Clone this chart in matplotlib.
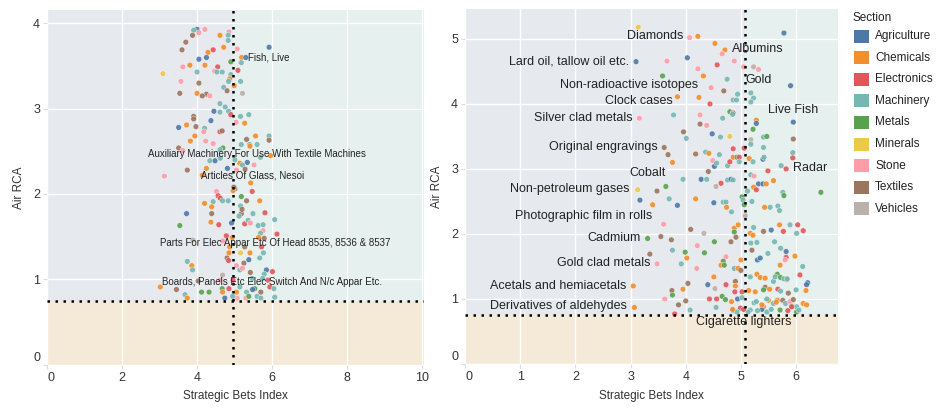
import matplotlib
matplotlib.use("Agg")
import matplotlib.pyplot as plt
from matplotlib.patches import Rectangle
from matplotlib.transforms import ScaledTranslation

plt.rcParams['font.family'] = ['Liberation Sans', 'DejaVu Sans']

sections = ["Agriculture", "Chemicals", "Electronics", "Machinery", "Metals",
            "Minerals", "Stone", "Textiles", "Vehicles"]
section_codes = ["A", "C", "E", "M", "Me", "Mi", "S", "T", "V"]
section_colors = ["#4e79a7", "#f28e2b", "#e15759", "#76b7b2", "#59a14f",
                  "#edc948", "#ff9da7", "#9c755f", "#bab0ac"]

# ---- left panel data ----
left_x = [4.00, 3.91, 4.21, 4.05, 3.88, 4.61, 4.85, 4.83, 4.83, 3.70, 4.71, 5.07, 5.92, 3.60, 4.43,
          4.29, 4.25, 4.05, 5.19, 5.30, 4.90, 5.18, 3.81, 4.21, 3.62, 4.55, 5.09, 3.09, 4.00, 4.47,
          4.53, 4.67, 4.90, 4.87, 4.84, 5.16, 3.57, 4.05, 4.99, 4.71, 4.80, 3.54, 4.00, 4.25, 4.34,
          4.14, 5.21, 4.61, 4.75, 4.45, 4.61, 4.84, 4.90, 5.16, 5.38, 3.91, 3.91, 4.37, 5.04, 5.27,
          3.51, 3.72, 3.97, 4.20, 4.18, 4.61, 4.67, 3.94, 5.56, 5.92, 5.92, 5.32, 3.82, 4.23, 4.43,
          5.18, 5.40, 5.60, 5.41, 3.51, 4.69, 4.61, 3.62, 5.69, 5.96, 5.01, 4.34, 4.48, 4.62, 5.14,
          5.34, 5.21, 5.52, 3.74, 4.25, 4.81, 5.05, 5.28, 3.13, 4.14, 5.43, 4.52, 5.01, 4.96, 5.47,
          5.18, 4.56, 4.62, 4.20, 4.43, 5.32, 5.67, 4.68, 4.83, 4.39, 5.16, 3.72, 4.39, 5.18, 5.12,
          5.49, 5.81, 6.07, 3.54, 4.37, 4.58, 4.92, 5.27, 5.36, 5.42, 5.63, 5.76, 5.76, 5.69, 6.13,
          3.89, 4.78, 4.94, 4.69, 5.64, 5.79, 5.72, 4.87, 5.27, 5.41, 5.77, 4.85, 5.16, 4.80, 4.84,
          5.38, 5.67, 3.74, 3.86, 3.88, 5.25, 5.05, 5.14, 5.21, 5.85, 6.01, 5.42, 4.68, 5.79, 5.89,
          4.03, 4.61, 4.96, 5.47, 5.75, 3.02, 3.45, 4.67, 4.85, 5.14, 5.54, 5.48, 5.94, 6.05, 4.12,
          4.32, 4.68, 5.05, 5.70, 5.32, 3.68, 3.74, 4.74, 5.07, 5.30, 5.38, 5.60, 5.70, 6.07, 4.95,
          4.98, 5.20]
left_y = [3.93, 3.92, 3.93, 3.89, 3.86, 3.86, 3.90, 3.86, 3.80, 3.78, 3.72, 3.70, 3.72, 3.69, 3.69,
          3.66, 3.60, 3.58, 3.60, 3.60, 3.55, 3.54, 3.51, 3.51, 3.49, 3.49, 3.45, 3.41, 3.43, 3.44,
          3.43, 3.43, 3.40, 3.35, 3.32, 3.32, 3.32, 3.30, 3.27, 3.25, 3.21, 3.18, 3.18, 3.17, 3.15,
          3.15, 3.18, 3.06, 3.02, 2.97, 2.96, 2.97, 2.93, 2.91, 2.93, 2.91, 2.88, 2.86, 2.84, 2.83,
          2.78, 2.81, 2.79, 2.77, 2.73, 2.73, 2.74, 2.68, 2.68, 2.68, 2.63, 2.64, 2.62, 2.62, 2.59,
          2.58, 2.58, 2.58, 2.56, 2.54, 2.54, 2.52, 2.51, 2.43, 2.45, 2.40, 2.39, 2.39, 2.42, 2.36,
          2.37, 2.34, 2.34, 2.28, 2.30, 2.30, 2.28, 2.29, 2.21, 2.22, 2.13, 2.03, 2.06, 2.04, 2.03,
          1.97, 1.98, 1.95, 1.89, 1.91, 1.92, 1.92, 1.92, 1.92, 1.85, 1.86, 1.77, 1.77, 1.77, 1.74,
          1.77, 1.78, 1.70, 1.63, 1.67, 1.64, 1.66, 1.65, 1.69, 1.66, 1.63, 1.64, 1.57, 1.54, 1.53,
          1.46, 1.51, 1.49, 1.45, 1.49, 1.48, 1.38, 1.38, 1.38, 1.31, 1.31, 1.31, 1.31, 1.25, 1.22,
          1.23, 1.25, 1.21, 1.16, 1.11, 1.19, 1.16, 1.11, 1.13, 1.11, 1.09, 1.08, 1.05, 1.06, 0.99,
          0.98, 0.99, 0.99, 1.01, 1.01, 0.91, 0.88, 0.89, 0.89, 0.91, 0.89, 0.88, 0.91, 0.89, 0.85,
          0.85, 0.85, 0.85, 0.85, 0.85, 0.82, 0.78, 0.78, 0.78, 0.78, 0.80, 0.80, 0.78, 0.79, 0.80,
          2.08, 1.82]
left_sec = ["A", "M", "S", "S", "T", "C", "S", "M", "M", "T", "C", "S", "A", "T", "E",
            "C", "A", "A", "C", "A", "Me", "M", "C", "C", "S", "E", "E", "Mi", "M", "S",
            "M", "M", "M", "C", "M", "M", "S", "T", "C", "M", "T", "T", "C", "T", "S",
            "T", "V", "M", "M", "A", "M", "M", "E", "M", "M", "T", "T", "A", "S", "C",
            "A", "C", "T", "M", "S", "E", "T", "C", "C", "M", "T", "T", "C", "S", "S",
            "M", "M", "M", "C", "T", "Me", "M", "S", "M", "C", "M", "M", "A", "M", "C",
            "A", "M", "S", "T", "C", "A", "S", "T", "S", "C", "C", "S", "T", "C", "E",
            "Me", "E", "E", "C", "M", "T", "C", "M", "M", "C", "M", "A", "T", "T", "M",
            "M", "E", "M", "Me", "C", "E", "A", "E", "M", "S", "M", "M", "S", "M", "E",
            "V", "E", "C", "S", "C", "T", "E", "C", "T", "C", "M", "C", "Mi", "T", "E",
            "A", "M", "M", "C", "M", "T", "S", "M", "S", "A", "E", "T", "V", "M", "E",
            "T", "S", "E", "M", "M", "C", "T", "Me", "E", "M", "Me", "A", "E", "M", "Me",
            "Me", "C", "C", "T", "M", "M", "C", "A", "S", "S", "Me", "M", "M", "M", "M",
            "T", "T"]
left_labels = ["Fish, Live", "Auxiliary Machinery For Use With Textile Machines",
               "Articles Of Glass, Nesoi", "Parts For Elec Appar Etc Of Head 8535, 8536 & 8537",
               "Boards, Panels Etc Elec Switch And N/c Appar Etc."]
left_label_x = [5.35, 5.59, 5.49, 6.09, 6.00]
left_label_y = [3.60, 2.47, 2.22, 1.42, 0.97]
left_label_ha = ["left", "center", "center", "center", "center"]
left_vline = 4.96
left_hline = 0.75

# ---- right panel data ----
right_x = [3.14, 4.07, 4.22, 4.53, 4.71, 4.66, 5.78, 3.10, 3.66, 4.03, 4.88, 4.22, 4.57, 5.05, 5.23,
           5.32, 3.58, 4.32, 4.75, 4.46, 4.69, 5.90, 4.94, 5.18, 5.23, 4.86, 4.92, 5.18, 3.85, 4.24,
           4.44, 3.16, 3.78, 4.26, 4.67, 4.80, 4.86, 4.85, 5.28, 5.28, 5.95, 4.26, 4.38, 5.22, 3.96,
           4.01, 4.48, 4.63, 4.80, 5.18, 5.18, 5.41, 5.47, 5.41, 5.95, 5.94, 5.94, 3.61, 3.68, 3.76,
           4.18, 4.36, 4.42, 4.49, 4.52, 4.56, 4.61, 4.76, 4.80, 4.86, 4.86, 4.93, 4.97, 4.97, 5.06,
           5.15, 5.22, 5.40, 5.42, 5.73, 5.82, 5.49, 4.41, 3.95, 4.28, 4.38, 4.64, 4.55, 4.76, 4.82,
           4.86, 5.18, 5.24, 5.32, 5.40, 5.46, 5.59, 5.23, 5.28, 5.12, 5.76, 5.78, 6.45, 3.64, 3.48,
           3.13, 3.17, 3.40, 3.70, 3.85, 4.18, 4.51, 4.68, 4.73, 4.74, 5.02, 5.04, 5.06, 5.20, 5.43,
           5.53, 5.67, 5.70, 5.08, 4.83, 3.60, 3.31, 3.55, 3.74, 3.76, 3.35, 3.48, 3.99, 4.02, 3.92,
           4.20, 4.09, 4.33, 4.21, 4.52, 4.34, 4.73, 4.68, 4.64, 4.70, 4.88, 4.95, 4.88, 4.91, 4.82,
           5.00, 4.88, 4.95, 5.00, 3.05, 3.07, 3.62, 3.75, 3.76, 3.87, 3.80, 4.00, 4.04, 3.95, 4.08,
           4.40, 4.53, 4.51, 4.43, 4.56, 4.55, 4.66, 4.72, 4.73, 4.83, 4.90, 4.90, 4.89, 5.02, 4.94,
           5.02, 4.86, 4.99, 4.93, 4.85, 5.14, 5.17, 5.22, 5.18, 5.20, 5.23, 5.29, 5.30, 5.35, 5.41,
           5.49, 5.55, 5.61, 5.70, 5.72, 5.82, 5.77, 5.89, 6.03, 6.01, 6.13, 5.98, 5.82, 5.80, 6.12,
           5.71, 5.66, 5.83, 6.21, 6.19, 5.59, 5.29, 5.35, 5.44, 5.52, 5.67, 5.72, 5.86, 6.00, 6.18,
           6.07, 5.17, 5.44, 5.62, 5.72, 5.78, 5.84, 5.41, 5.24, 5.41, 5.50, 5.59, 5.66, 5.76, 5.81,
           5.89, 5.92, 6.01, 6.13, 5.38, 5.71, 6.01, 5.17, 5.47, 5.92, 6.19, 5.38, 5.28, 5.47, 5.64,
           5.26, 5.30, 5.85, 6.05, 5.95, 5.55, 5.13, 5.05]
right_y = [5.18, 5.02, 5.04, 4.93, 4.83, 4.77, 5.09, 4.65, 4.66, 4.71, 4.66, 4.54, 4.60, 4.57, 4.57,
           4.53, 4.43, 4.43, 4.38, 4.25, 4.20, 4.28, 4.15, 4.17, 4.09, 4.06, 4.06, 4.03, 4.11, 4.10,
           4.00, 3.78, 3.83, 3.83, 3.78, 3.88, 3.86, 3.84, 3.75, 3.70, 3.72, 3.69, 3.67, 3.61, 3.57,
           3.47, 3.54, 3.49, 3.50, 3.45, 3.38, 3.49, 3.50, 3.33, 3.46, 3.25, 3.17, 3.33, 3.22, 3.10,
           3.23, 3.26, 3.24, 3.13, 3.04, 3.09, 3.22, 3.05, 3.11, 3.31, 3.18, 3.18, 3.18, 3.11, 3.32,
           3.16, 3.11, 3.15, 3.18, 3.05, 3.00, 2.97, 2.96, 2.84, 2.84, 2.84, 2.78, 2.73, 2.83, 2.84,
           2.83, 2.91, 2.89, 2.77, 2.77, 2.77, 2.82, 2.72, 2.68, 2.66, 2.64, 2.59, 2.64, 2.73, 2.66,
           2.68, 2.52, 2.45, 2.54, 2.44, 2.54, 2.48, 2.49, 2.49, 2.41, 2.57, 2.52, 2.45, 2.50, 2.41,
           2.41, 2.43, 2.36, 2.28, 2.34, 2.15, 1.93, 1.96, 1.91, 1.75, 1.69, 1.54, 1.72, 1.63, 1.54,
           1.47, 2.07, 2.01, 1.82, 1.88, 1.71, 1.65, 1.58, 1.52, 1.52, 2.09, 2.14, 2.03, 1.95, 1.88,
           1.60, 1.47, 1.47, 1.44, 1.20, 0.87, 1.00, 1.13, 1.06, 0.91, 0.77, 0.97, 1.24, 1.15, 0.83,
           1.22, 1.16, 1.34, 1.00, 1.00, 0.87, 1.04, 0.99, 1.22, 0.96, 1.27, 1.20, 1.11, 1.11, 1.00,
           1.02, 0.82, 0.86, 0.80, 0.84, 1.13, 2.01, 1.98, 1.86, 1.75, 2.10, 1.87, 1.60, 1.63, 2.04,
           1.70, 2.06, 1.88, 2.14, 1.78, 1.73, 2.04, 2.14, 2.14, 2.01, 2.05, 1.66, 1.64, 1.60, 1.50,
           1.52, 1.38, 1.30, 1.25, 1.22, 1.27, 1.38, 1.33, 1.18, 1.15, 1.15, 1.12, 1.09, 1.14, 1.13,
           1.37, 1.34, 1.32, 1.34, 1.33, 1.31, 1.31, 1.14, 0.94, 0.88, 0.98, 0.93, 0.98, 0.98, 0.93,
           0.96, 0.89, 0.88, 0.93, 0.84, 0.83, 0.80, 0.83, 0.80, 0.88, 0.91, 0.91, 0.96, 1.00, 0.95,
           1.11, 0.82, 0.82, 0.83, 0.99, 0.84, 0.80, 0.84]
right_sec = ["Mi", "S", "C", "C", "C", "S", "A", "A", "S", "A", "S", "S", "E", "S", "V",
             "S", "Me", "C", "M", "S", "T", "A", "M", "M", "M", "M", "M", "M", "C", "C",
             "E", "S", "M", "S", "M", "Me", "E", "M", "C", "A", "A", "T", "S", "Me", "T",
             "M", "A", "M", "Mi", "V", "M", "M", "Me", "M", "T", "M", "E", "T", "T", "C",
             "T", "M", "C", "S", "A", "M", "M", "M", "E", "E", "C", "Me", "E", "M", "E",
             "C", "M", "A", "M", "M", "E", "E", "T", "M", "A", "M", "E", "V", "M", "A",
             "M", "M", "S", "A", "A", "C", "C", "C", "E", "M", "M", "Me", "Me", "Me", "T",
             "Mi", "A", "C", "M", "A", "C", "A", "M", "M", "C", "Me", "M", "Me", "M", "C",
             "M", "M", "M", "V", "M", "S", "Me", "T", "T", "M", "T", "S", "Me", "C", "M",
             "S", "T", "V", "S", "Me", "Me", "S", "Me", "C", "Me", "C", "C", "Me", "T", "T",
             "C", "M", "C", "T", "C", "C", "S", "T", "Me", "T", "E", "T", "T", "C", "M",
             "A", "V", "C", "E", "E", "M", "Me", "Me", "E", "C", "T", "C", "E", "E", "A",
             "M", "M", "E", "M", "C", "C", "C", "C", "M", "T", "M", "M", "A", "A", "T",
             "M", "A", "M", "C", "M", "A", "E", "M", "E", "M", "E", "C", "E", "S", "M",
             "C", "Me", "E", "A", "A", "M", "C", "C", "T", "C", "E", "M", "T", "M", "C",
             "E", "M", "C", "M", "Me", "M", "M", "Me", "M", "C", "C", "M", "C", "T", "M",
             "S", "Me", "M", "C", "A", "Me", "Me", "M", "M", "E", "C", "C", "M", "M", "C",
             "C", "M", "E", "M", "T", "M", "M", "E"]
right_labels = ["Diamonds", "Albumins", "Lard oil, tallow oil etc.", "Non-radioactive isotopes",
                "Gold", "Clock cases", "Live Fish", "Silver clad metals", "Original engravings",
                "Radar", "Cobalt", "Non-petroleum gases", "Photographic film in rolls", "Cadmium",
                "Gold clad metals", "Acetals and hemiacetals", "Derivatives of aldehydes",
                "Cigarette lighters"]
right_label_x = [3.96, 4.84, 2.97, 4.23, 5.08, 3.76, 5.49, 3.04, 3.49, 5.95, 3.64, 2.99, 3.40,
                 3.19, 3.36, 2.92, 2.93, 5.05]
right_label_y = [5.04, 4.84, 4.65, 4.29, 4.37, 4.04, 3.91, 3.78, 3.34, 3.01, 2.93, 2.69, 2.28,
                 1.94, 1.56, 1.20, 0.89, 0.64]
right_label_ha = ["right", "left", "right", "right", "left", "right", "left", "right", "right",
                  "left", "right", "right", "right", "right", "right", "right", "right", "center"]
right_vline = 5.08
right_hline = 0.75

W, H = 938, 409
fig = plt.figure(figsize=(W / 100, H / 100), dpi=100)
color_map = dict(zip(section_codes, section_colors))

UL = "#e6eaef"
UR = "#e6f0ee"
BOT = "#f5e9d8"


def panel(rect, xs, ys, secs, xlim, ylim, vline, hline, xticks, yticks,
          labels, lx, ly, lha, lsize):
    ax = fig.add_axes(rect)
    ax.set_xlim(*xlim)
    ax.set_ylim(*ylim)
    ax.add_patch(Rectangle((xlim[0], hline), vline - xlim[0], ylim[1] - hline,
                           facecolor=UL, edgecolor="none", zorder=0))
    ax.add_patch(Rectangle((vline, hline), xlim[1] - vline, ylim[1] - hline,
                           facecolor=UR, edgecolor="none", zorder=0))
    ax.add_patch(Rectangle((xlim[0], ylim[0]), xlim[1] - xlim[0], hline - ylim[0],
                           facecolor=BOT, edgecolor="none", zorder=0))
    ax.set_axisbelow(True)
    ax.grid(True, color="white", linewidth=1.0)
    ax.set_xticks(xticks)
    ax.set_yticks(yticks)
    for s in ax.spines.values():
        s.set_visible(False)
    ax.tick_params(length=3, color="#dddddd", labelsize=9, labelcolor="#333333", pad=2)
    cols = [color_map[s] for s in secs]
    ax.scatter(xs, ys, s=17, c=cols, alpha=0.9, edgecolors="white", linewidths=0.3, zorder=3)
    ax.axvline(vline, color="black", linestyle=(0, (1, 2.2)), linewidth=1.8, zorder=4)
    ax.axhline(hline, color="black", linestyle=(0, (1, 2.2)), linewidth=1.8, zorder=4)
    for t, x, y, ha in zip(labels, lx, ly, lha):
        ax.text(x, y, t, ha=ha, va="center", fontsize=lsize, color="#222222", zorder=5)
    ax.set_xlabel("Strategic Bets Index", fontsize=8.5, color="#333333", labelpad=5)
    ax.set_ylabel("Air RCA", fontsize=8.5, color="#333333", labelpad=6)
    fig.canvas.draw()
    xl = ax.get_xticklabels()
    xl[0].set_transform(xl[0].get_transform() + ScaledTranslation(4 / 100, 0, fig.dpi_scale_trans))
    yl = ax.get_yticklabels()
    yl[0].set_transform(yl[0].get_transform() + ScaledTranslation(0, 8 / 100, fig.dpi_scale_trans))
    return ax


panel([47 / W, 1 - 364.6 / H, (424 - 47) / W, (364.6 - 10) / H],
      left_x, left_y, left_sec, (0, 10.05), (0, 4.157), left_vline, left_hline,
      [0, 2, 4, 6, 8, 10], [0, 1, 2, 3, 4],
      left_labels, left_label_x, left_label_y, left_label_ha, 7.0)

panel([465 / W, 1 - 364 / H, (838 - 465) / W, (364 - 9) / H],
      right_x, right_y, right_sec, (0, 6.76), (0, 5.46), right_vline, right_hline,
      [0, 1, 2, 3, 4, 5, 6], [0, 1, 2, 3, 4, 5],
      right_labels, right_label_x, right_label_y, right_label_ha, 9.0)

# legend
fig.text(852 / W, 1 - 18 / H, "Section", fontsize=8.5, color="#222222", va="center", ha="left")
for i, (name, col) in enumerate(zip(sections, section_colors)):
    yc = 36 + 21.6 * i
    fig.patches.append(Rectangle((854 / W, 1 - (yc + 6.5) / H), 15 / W, 13 / H,
                                 facecolor=col, edgecolor="none", transform=fig.transFigure))
    fig.text(875 / W, 1 - yc / H, name, fontsize=8.5, color="#222222", va="center", ha="left")

fig.savefig("out.png", dpi=100)
